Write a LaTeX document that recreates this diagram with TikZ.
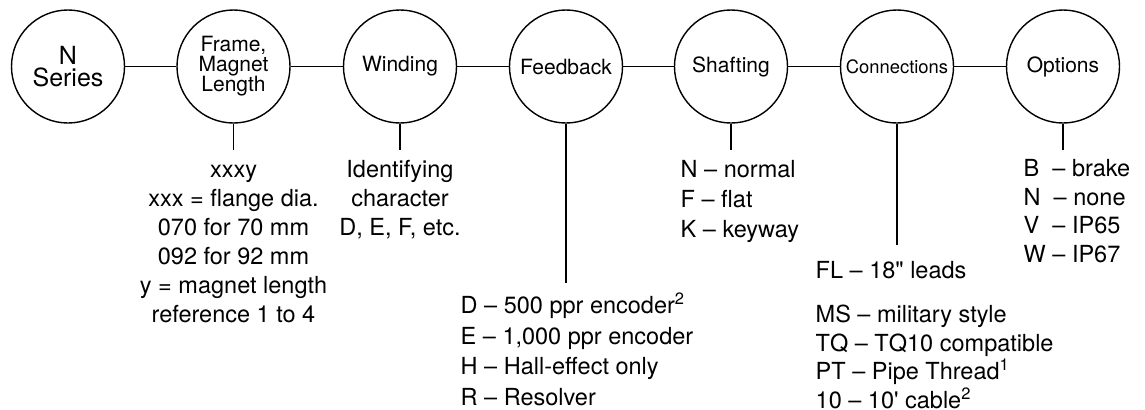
\documentclass[tikz,border=0pt]{standalone}
\usepackage{fontspec}
\setmainfont{TeX Gyre Heros}
\usepackage{tikz}

\tikzset{
  part/.style={draw,circle,minimum size=56.5pt,inner sep=0pt,align=center,font=\fontsize{10.5}{10}\selectfont},
  code/.style={inner xsep=0pt,inner ysep=3pt,font=\fontsize{11.75}{14.5}\selectfont},
}

\begin{document}
\begin{tikzpicture}[x=0.5pt,y=-0.5pt,line width=0.7pt]
\useasboundingbox (0,0) rectangle (1145,409);

\node[part,font=\fontsize{12.5}{10.75}\selectfont] (nser) at (68,66.5) {N\\Series};
\node[part] (frame) at (233.5,66.5) {Frame,\\Magnet\\Length};
\node[part] (winding) at (400,66.5) {Winding};
\node[part] (feedback) at (566,66.5) {Feedback};
\node[part] (shafting) at (731,66.5) {Shafting};
\node[part,font=\fontsize{9.2}{10}\selectfont] (conn) at (897,66.5) {Connections};
\node[part] (options) at (1063,66.5) {Options};

\foreach \a/\b in {nser/frame,frame/winding,winding/feedback,feedback/shafting,shafting/conn,conn/options}
  \draw (\a) -- (\b);

\node[code,anchor=north,align=center] (frametxt) at (233.5,150)
  {\strut xxxy\\ xxx = flange dia.\\ 070 for 70 mm\\ 092 for 92 mm\\ y = magnet length\\ reference 1 to 4};
\node[code,anchor=north,align=center] (windtxt) at (400,150)
  {\strut Identifying\\ character\\ D, E, F, etc.};
\node[code,anchor=north west,align=left,inner ysep=4.3pt,font=\fontsize{11.75}{15.25}\selectfont] (fbtxt) at (460,283)
  {\strut D -- 500 ppr encoder\textsuperscript{2}\\ E -- 1,000 ppr encoder\\ H -- Hall-effect only\\ R -- Resolver};
\node[code,anchor=north west,align=left,font=\fontsize{11.75}{15}\selectfont] (shafttxt) at (680,150)
  {\strut N -- normal\\ F -- flat\\ K -- keyway};
\node[code,anchor=north west,align=left,inner ysep=6.5pt,font=\fontsize{11.75}{14.25}\selectfont] (conntxt) at (815,245)
  {\strut FL -- 18\textquotedbl\ leads\\[7.75pt] MS -- military style\\ TQ -- TQ10 compatible\\ PT -- Pipe Thread\textsuperscript{1}\\ 10 -- 10\textquotesingle\ cable\textsuperscript{2}};
\node[code,anchor=north west,align=left,font=\fontsize{11.75}{14.25}\selectfont] (opttxt) at (1023,150)
  {\strut B\ \ -- brake\\ N\ \ -- none\\ V\ \ -- IP65\\ W -- IP67};

\draw (frame.south) -- (frametxt.north);
\draw (winding.south) -- (windtxt.north);
\draw (feedback.south) -- (feedback.south |- fbtxt.north);
\draw (shafting.south) -- (shafting.south |- shafttxt.north);
\draw (conn.south) -- (conn.south |- conntxt.north);
\draw (options.south) -- (options.south |- opttxt.north);
\end{tikzpicture}
\end{document}
